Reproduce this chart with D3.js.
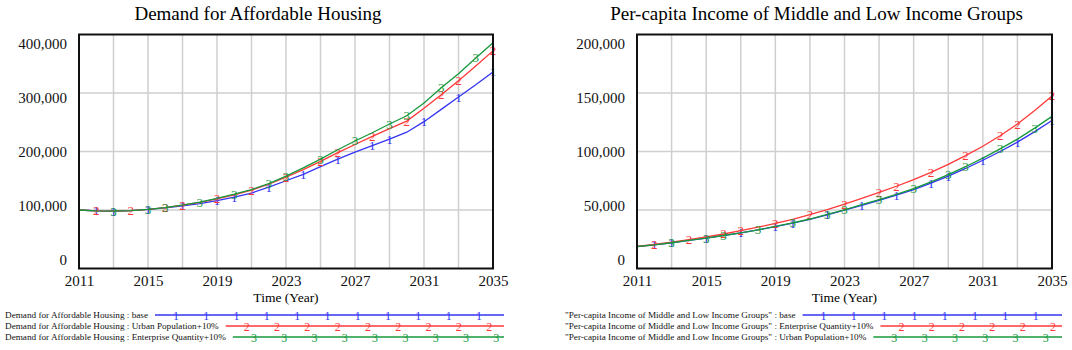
<!DOCTYPE html>
<html>
<head>
<meta charset="utf-8">
<script src="https://cdn.jsdelivr.net/npm/d3@7"></script>
<style>
  body { margin: 0; background: #fff; }
  svg { display: block; }
  svg text { font-family: "Liberation Serif", "Times New Roman", serif; }
</style>
</head>
<body>
<svg id="chart" width="1072" height="350"></svg>
<script>
// data
const years = [2011, 2012, 2013, 2014, 2015, 2016, 2017, 2018, 2019, 2020, 2021, 2022, 2023,
  2024, 2025, 2026, 2027, 2028, 2029, 2030, 2031, 2032, 2033, 2034, 2035];
const yearTicks = [2011, 2015, 2019, 2023, 2027, 2031, 2035];
const gridYears = [2011, 2013, 2015, 2017, 2019, 2021, 2023, 2025, 2027, 2029, 2031, 2033, 2035];

const housingTicks = [0, 100000, 200000, 300000, 400000];
const housingBase = [100, 98.5, 98, 99, 101, 103.5, 107, 111, 116, 122, 129, 139, 150,
  161, 174, 187, 199, 210, 221, 233, 251, 272, 293, 314, 336].map(v => v * 1000);
const housingUrban = [100, 98.5, 98, 99, 101, 104, 108.5, 113, 119, 126, 134, 144, 156,
  169, 183, 198, 212, 226, 239, 252, 274, 297, 321, 346, 372].map(v => v * 1000);
const housingEnterprise = [100, 98.5, 98, 99, 101, 104, 108.5, 113.5, 120, 127, 135, 145, 158,
  172, 187, 203, 218, 232, 247, 261, 283, 309, 333, 360, 386].map(v => v * 1000);

const incomeTicks = [0, 50000, 100000, 150000, 200000];
const incomeBase = [18.8, 20.2, 22, 24, 26, 28.2, 30.5, 33, 35.7, 38.7, 42, 45.8, 49.8,
  54, 58.3, 62.8, 67.5, 73, 79, 85.5, 92.5, 100, 108, 117, 126.5].map(v => v * 1000);
const incomeEnterprise = [18.8, 20.5, 22.5, 24.7, 27, 29.5, 32.3, 35.3, 38.5, 42, 46, 50.3, 55,
  60, 65, 70.3, 76, 82.2, 89, 96.5, 104.5, 113.5, 123.5, 135, 147.5].map(v => v * 1000);
const incomeUrban = [18.8, 20.2, 22, 24, 26, 28.2, 30.5, 33, 36, 39, 42.3, 46.2, 50.2,
  54.5, 58.8, 63.4, 68.3, 74, 80.3, 87, 94.3, 102.2, 110.6, 120, 130].map(v => v * 1000);

// years where the run number is printed on the curve
const markers1 = [2012, 2013, 2015, 2017, 2019, 2020, 2022, 2024, 2026, 2028, 2029, 2031, 2033, 2035];
const markers2 = [2012, 2014, 2016, 2017, 2019, 2021, 2023, 2025, 2026, 2028, 2030, 2032, 2033, 2035];
const markers3 = [2013, 2015, 2016, 2018, 2020, 2022, 2023, 2025, 2027, 2029, 2030, 2032, 2034];

const colors = ['#3434f2', '#ff3838', '#16993c'];

const housingLegend = [
  'Demand for Affordable Housing : base',
  'Demand for Affordable Housing : Urban Population+10%',
  'Demand for Affordable Housing : Enterprise Quantity+10%'
];
const incomeLegend = [
  '"Per-capita Income of Middle and Low Income Groups" : base',
  '"Per-capita Income of Middle and Low Income Groups" : Enterprise Quantity+10%',
  '"Per-capita Income of Middle and Low Income Groups" : Urban Population+10%'
];

const svg = d3.select('#chart');

function drawPanel(opt) {
  const g = svg.append('g');
  const x = d3.scaleLinear().domain([2011, 2035]).range([opt.left, opt.right]);
  const y = d3.scaleLinear().domain([0, opt.max]).range([268.5, 34.5]);
  // tick labels sit a bit inside the grid, like the original tool draws them
  const yLab = d3.scaleLinear().domain([0, opt.max]).range([260, 44]);

  g.append('text')
    .attr('x', (opt.left + opt.right) / 2 - 28)
    .attr('y', 20)
    .attr('text-anchor', 'middle')
    .attr('font-size', 19)
    .text(opt.title);

  // grid
  g.selectAll('.vg').data(gridYears).join('line')
    .attr('x1', d => x(d)).attr('x2', d => x(d))
    .attr('y1', y(0)).attr('y2', y(opt.max))
    .attr('stroke', '#cfcfcf').attr('stroke-width', 1.5);
  g.selectAll('.hg').data(opt.ticks.slice(1, -1)).join('line')
    .attr('x1', opt.left).attr('x2', opt.right)
    .attr('y1', d => y(d)).attr('y2', d => y(d))
    .attr('stroke', '#cfcfcf').attr('stroke-width', 1.5);

  // y labels
  const yAxis = d3.axisLeft(yLab).tickValues(opt.ticks).tickSize(0).tickPadding(0)
    .tickFormat(d3.format(','));
  const ya = g.append('g').attr('transform', `translate(${opt.left - 12},0)`).call(yAxis)
    .attr('font-size', 15);
  ya.select('.domain').remove();
  ya.selectAll('text').attr('fill', '#111');

  // x labels
  const xAxis = d3.axisBottom(x).tickValues(yearTicks).tickSize(0).tickPadding(0)
    .tickFormat(d3.format('d'));
  const xa = g.append('g').attr('transform', 'translate(0,275)').call(xAxis)
    .attr('font-size', 15);
  xa.select('.domain').remove();
  xa.selectAll('text').attr('fill', '#111');

  g.append('text')
    .attr('x', (opt.left + opt.right) / 2)
    .attr('y', 302)
    .attr('text-anchor', 'middle')
    .attr('font-size', 13.5)
    .text('Time (Year)');

  // curves
  const line = d3.line().x((d, i) => x(years[i])).y(d => y(d));
  opt.series.forEach((s, k) => {
    g.append('path')
      .datum(s)
      .attr('fill', 'none')
      .attr('stroke', colors[k])
      .attr('stroke-width', 1.3)
      .attr('d', line);
    g.selectAll('.m' + k).data(opt.marks[k]).join('text')
      .attr('x', d => x(d))
      .attr('y', d => y(s[years.indexOf(d)]) + 4.5)
      .attr('text-anchor', 'middle')
      .attr('font-size', 13)
      .attr('fill', colors[k])
      .text(k + 1);
  });

  // frame
  g.append('rect')
    .attr('x', opt.left).attr('y', y(opt.max))
    .attr('width', opt.right - opt.left).attr('height', y(0) - y(opt.max))
    .attr('fill', 'none').attr('stroke', '#111').attr('stroke-width', 2);

  // legend
  opt.legend.forEach((label, k) => {
    const cy = 315 + k * 11;
    const t = g.append('text')
      .attr('x', opt.legendX).attr('y', cy + 3)
      .attr('font-size', 9.2)
      .attr('fill', '#111')
      .text(label);
    const start = opt.legendX + t.node().getComputedTextLength() + 7;
    const end = opt.legendEnd;
    g.append('line')
      .attr('x1', start).attr('x2', end)
      .attr('y1', cy).attr('y2', cy)
      .attr('stroke', colors[k]).attr('stroke-width', 1.3);
    const pos = d3.range(start + 21, end + 1, 30.3);
    g.selectAll('.lm' + k).data(pos).join('text')
      .attr('x', d => d).attr('y', cy + 4.5)
      .attr('text-anchor', 'middle')
      .attr('font-size', 12)
      .attr('fill', colors[k])
      .text(k + 1);
  });
}

drawPanel({
  title: 'Demand for Affordable Housing',
  left: 79, right: 493, max: 400000,
  ticks: housingTicks,
  series: [housingBase, housingUrban, housingEnterprise],
  marks: [markers1, markers2, markers3],
  legend: housingLegend, legendX: 5, legendEnd: 504
});

drawPanel({
  title: 'Per-capita Income of Middle and Low Income Groups',
  left: 637, right: 1052, max: 200000,
  ticks: incomeTicks,
  series: [incomeBase, incomeEnterprise, incomeUrban],
  marks: [markers1, markers2, markers3],
  legend: incomeLegend, legendX: 565, legendEnd: 1062
});
</script>
</body>
</html>
